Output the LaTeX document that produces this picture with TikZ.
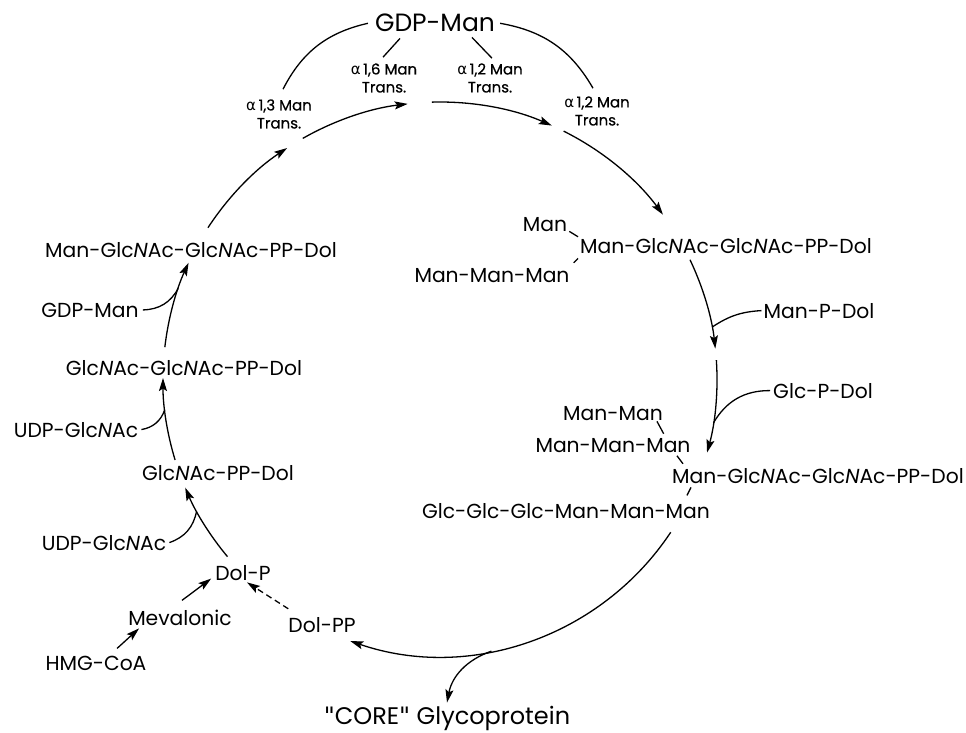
\documentclass[tikz,border=0pt]{standalone}
\usepackage{fontspec}
\setmainfont{Poppins}
\newfontfamily\grk{DejaVu Sans}
\newfontfamily\lblfont[FakeBold=0.6]{Poppins}
\usetikzlibrary{arrows.meta,calc}
\newcommand\GN{Glc\textit{N}Ac}
\newcommand\alf{{\grk α}}
\newcommand\sq{{\grk\symbol{34}}}
\begin{document}
\begin{tikzpicture}[x=1pt,y=1pt,
  txt/.style={inner sep=0pt,anchor=base,font=\fontsize{20.3}{24}\selectfont},
  big/.style={inner sep=0pt,anchor=base,font=\fontsize{25}{28}\selectfont},
  lbl/.style={inner sep=0pt,align=center,font=\lblfont\fontsize{15}{18}\selectfont},
  ln/.style={line width=1.3pt},
  arr/.style={ln,-{Stealth[length=13pt,width=8pt,inset=2.5pt]}},
  dsh/.style={arr,dash pattern=on 6pt off 4pt}
]
\fill[white] (0,0) rectangle (966,-733);
\useasboundingbox (0,0) rectangle (966,-733);
\coordinate (C) at (440,-379);

% top
\node[big] (gdp) at (435,-32) {GDP-Man};
\node[lbl] (a16) at (384,-78) {\alf\,1,6 Man\\Trans.};
\node[lbl] (a12) at (490,-78) {\alf\,1,2 Man\\Trans.};
\node[lbl] (a12r) at (597,-111) {\alf\,1,2 Man\\Trans.};
\node[lbl] (a13) at (279,-114) {\alf\,1,3 Man\\Trans.};

% left column
\node[txt] (mgg) at (191,-257) {Man-\GN-\GN-PP-Dol};
\node[txt] (gdp2) at (90,-317) {GDP-Man};
\node[txt] (gg) at (184,-375) {\GN-\GN-PP-Dol};
\node[txt] (udp1) at (76,-437) {UDP-\GN};
\node[txt] (g1) at (218,-480) {\GN-PP-Dol};
\node[txt] (udp2) at (104,-550) {UDP-\GN};
\node[txt] (dolp) at (243,-580) {Dol-P};
\node[txt] (mev) at (180,-625) {Mevalonic};
\node[txt] (hmg) at (96,-670) {HMG-CoA};
\node[txt] (dolpp) at (322,-632) {Dol-PP};
\node[inner sep=0pt,anchor=base,font=\fontsize{24}{28}\selectfont] (core) at (447,-724) {\sq CORE\sq\ Glycoprotein};

% right
\node[txt] (man1) at (545,-231) {Man};
\node[txt] (m2) at (726,-253) {Man-\GN-\GN-PP-Dol};
\node[txt] (mmm1) at (492,-282) {Man-Man-Man};
\node[txt] (mpd) at (819,-318) {Man-P-Dol};
\node[txt] (gpd) at (823,-398) {Glc-P-Dol};
\node[txt] (mm) at (613,-420) {Man-Man};
\node[txt] (mmm2) at (613,-452) {Man-Man-Man};
\node[txt,anchor=base west] (m3) at (672,-483) {Man-\GN-\GN-PP-Dol};
\node[txt] (ggg) at (566,-518) {Glc-Glc-Glc-Man-Man-Man};

% cycle points
\coordinate (s1) at ($(C)+(146.9:277)$);
\coordinate (s2) at ($(C)+(119.7:277)$);
\coordinate (s3) at ($(C)+(91.7:277)$);
\coordinate (s4) at ($(C)+(63.5:277)$);
\coordinate (s5) at ($(C)+(25.5:277)$);
\coordinate (s6) at ($(C)+(3.9:277)$);
\coordinate (s7) at ($(C)+(-33.6:277)$);
\coordinate (s8) at ($(C)+(219.9:277)$);
\coordinate (s9) at ($(C)+(197:277)$);
\coordinate (s10) at ($(C)+(173.4:277)$);

\draw[arr] (s1) arc[start angle=146.9,end angle=123.5,radius=277];
\draw[arr] (s2) arc[start angle=119.7,end angle=96.7,radius=277];
\draw[arr] (s3) arc[start angle=91.7,end angle=66.2,radius=277];
\draw[arr] (s4) arc[start angle=63.5,end angle=36.4,radius=277];
\draw[arr] (s5) arc[start angle=25.5,end angle=6.3,radius=277];
\draw[arr] (s6) arc[start angle=3.9,end angle=-15.4,radius=277];
\draw[arr] (s7) arc[start angle=-33.6,end angle=-108.9,radius=277];
\draw[arr] (s8) arc[start angle=219.9,end angle=203.1,radius=277];
\draw[arr] (s9) arc[start angle=197,end angle=179.8,radius=277];
\draw[arr] (s10) arc[start angle=173.4,end angle=155.2,radius=277];

% branches
\coordinate (bG) at ($(C)+(160.9:277)$);
\coordinate (bU1) at ($(C)+(186.4:277)$);
\coordinate (bU2) at ($(C)+(208.5:277)$);
\coordinate (bM) at ($(C)+(10.8:277)$);
\coordinate (bGl) at ($(C)+(-9.1:277)$);
\coordinate (bC) at ($(C)+(-79.3:277)$);
\draw[ln] ([xshift=4pt]gdp2.east) to[bend right=30] (bG);
\draw[ln] ([xshift=3pt]udp1.east) to[bend right=30] (bU1);
\draw[ln] ([xshift=3pt]udp2.east) to[bend right=30] (bU2);
\draw[ln] ([xshift=-2pt]mpd.west) to[bend right=15] (bM);
\draw[ln] ([xshift=-3pt]gpd.west) to[bend right=30] (bGl);
\draw[arr] (bC) to[bend right=30] ([yshift=3pt]core.north);

% top links
\draw[ln] ($(a13.north)+(4,10)$) to[bend left=25] ($(gdp.west)+(-7,0)$);
\draw[ln] ($(gdp.east)+(5,0)$) to[bend left=25] ($(a12r.north)+(-4,8)$);
\draw[ln] ($(gdp.south)+(-35,-6)$) -- ($(a16.north)+(-1,6)$);
\draw[ln] ($(gdp.south)+(37,-5)$) -- ($(a12.north)+(2,5)$);

% precursor arrows
\draw[arr] ($(hmg.north)+(21,7)$) -- ($(mev.south west)+(11,-3)$);
\draw[arr] ($(mev.north)+(2,9)$) -- ($(dolp.west)+(-4,-6)$);
\draw[dsh] ($(dolpp.north west)+(0,8)$) -- ($(dolp.south)+(4,-2)$);

% small ticks
\draw[ln] ($(man1.south east)+(2,0)$) -- ($(m2.north west)+(-2,1)$);
\draw[ln] ($(mmm1.north east)+(4,5)$) -- ($(m2.south west)+(-2,-5)$);
\draw[ln] ($(mm.south east)+(-6,-1)$) -- ($(mmm2.north east)+(-27,4)$);
\draw[ln] ($(m3.north west)+(5,12)$) -- ($(m3.north west)+(11,4)$);
\draw[ln] ($(m3.south west)+(19,-4)$) -- ($(m3.south west)+(15,-12)$);
\end{tikzpicture}
\end{document}
